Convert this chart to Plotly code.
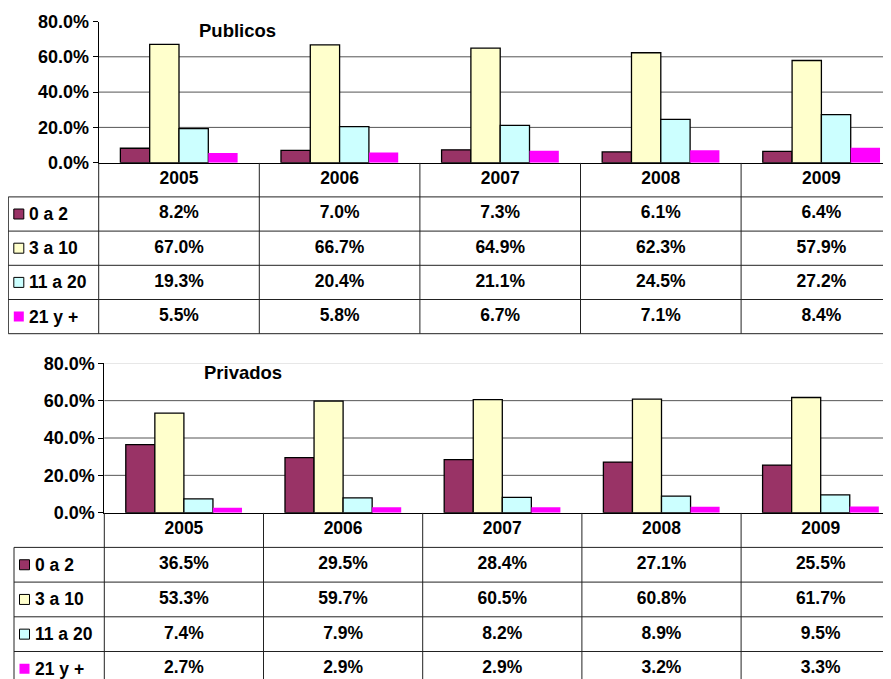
import plotly.graph_objects as go

## DATOS
anios = ["2005", "2006", "2007", "2008", "2009"]
grupos = ["0 a 2", "3 a 10", "11 a 20", "21 y +"]
colores = ["#993366", "#FFFFCC", "#CCFFFF", "#FF00FF"]
ejes_y = [0.0, 0.2, 0.4, 0.6, 0.8]

publicos_0a2 = [8.2, 7.0, 7.3, 6.1, 6.4]
publicos_3a10 = [67.0, 66.7, 64.9, 62.3, 57.9]
publicos_11a20 = [19.3, 20.4, 21.1, 24.5, 27.2]
publicos_21 = [5.5, 5.8, 6.7, 7.1, 8.4]

privados_0a2 = [36.5, 29.5, 28.4, 27.1, 25.5]
privados_3a10 = [53.3, 59.7, 60.5, 60.8, 61.7]
privados_11a20 = [7.4, 7.9, 8.2, 8.9, 9.5]
privados_21 = [2.7, 2.9, 2.9, 3.2, 3.3]

W, H = 891, 679
OFF = 8  # margen del <body> en la pagina
FUENTE = "Liberation Sans, Arial, sans-serif"


def px_x(p):
    return min(1, max(0, (p - OFF) / W))


def px_y(p):
    return min(1, max(0, 1 - (p - OFF) / H))


def agregar_panel(fig, n, titulo, series, eje_x, ancho_col, y80, y0, alto_fila, ancho_leyenda, gris80):
    # n: 1 = arriba, 2 = abajo ; cada panel usa un par de ejes para barras y otro para la tabla
    xb, yb = ("x", "y") if n == 1 else ("x2", "y2")
    xt, yt = ("x3", "y3") if n == 1 else ("x4", "y4")
    nxb, nyb = ("xaxis", "yaxis") if n == 1 else ("xaxis2", "yaxis2")
    nxt, nyt = ("xaxis3", "yaxis3") if n == 1 else ("xaxis4", "yaxis4")

    x_idx = list(range(len(anios)))
    for g, col, vals in zip(grupos, colores, series):
        fig.add_trace(go.Bar(
            x=x_idx, y=[v / 100 for v in vals], name=g,
            marker=dict(color=col, line=dict(color="black", width=0 if col == "#FF00FF" else 1.3)),
            xaxis=xb, yaxis=yb, showlegend=False, hoverinfo="skip",
        ))

    borde_der = W + OFF
    rango_der = -0.5 + (borde_der - eje_x) / ancho_col
    fig.layout[nxb] = dict(
        domain=[px_x(eje_x), 1], range=[-0.5, rango_der], anchor=yb, automargin=False,
        showgrid=False, zeroline=False, showticklabels=False,
        showline=True, linecolor="black", linewidth=1, ticks="",
    )
    fig.layout[nyb] = dict(
        domain=[px_y(y0), px_y(y80)], range=[0, 0.8], anchor=xb, automargin=False,
        tickvals=ejes_y, tickformat=".1%", ticks="outside", ticklen=5,
        tickcolor="black", showline=True, linecolor="black", linewidth=1,
        showgrid=False, zeroline=False,
        tickfont=dict(family=FUENTE, size=18, color="black", weight="bold"),
    )
    # lineas de cuadricula
    for v in ejes_y[1:-1]:
        fig.add_shape(type="line", xref=xb + " domain", yref=yb, x0=0, x1=1, y0=v, y1=v,
                      line=dict(color="#555555", width=1), layer="below")
    if gris80:
        fig.add_shape(type="line", xref=xb + " domain", yref=yb, x0=0, x1=1, y0=0.8, y1=0.8,
                      line=dict(color="#d8d8d8", width=1), layer="below")

    fig.add_annotation(text=titulo, xref="paper", yref="paper", x=px_x(eje_x + 139),
                       y=px_y(y80 + 9), xanchor="center", yanchor="middle",
                       showarrow=False, font=dict(family=FUENTE, size=18.5, color="black", weight="bold"))

    ## TABLA
    filas = 1 + len(grupos)
    izq_px = max(OFF, eje_x - ancho_leyenda - 4)
    x_izq = -0.5 - (eje_x - izq_px) / ancho_col
    x_leyenda = -0.5 - ancho_leyenda / ancho_col
    fig.layout[nxt] = dict(
        domain=[px_x(izq_px), 1], range=[x_izq, rango_der], anchor=yt, automargin=False,
        showgrid=False, zeroline=False, showticklabels=False, showline=False,
    )
    abajo_px = min(y0 + filas * alto_fila + 2, H + OFF)
    rng_abajo = (abajo_px - y0) / alto_fila
    fig.layout[nyt] = dict(
        domain=[px_y(abajo_px), px_y(y0)], range=[rng_abajo, 0], anchor=xt, automargin=False,
        showgrid=False, zeroline=False, showticklabels=False, showline=False,
    )
    lc = dict(color="#222222", width=1)
    for k in range(len(anios) + 1):
        fig.add_shape(type="line", xref=xt, yref=yt, x0=k - 0.5, x1=k - 0.5, y0=0, y1=filas, line=lc)
    fig.add_shape(type="line", xref=xt, yref=yt, x0=x_leyenda, x1=x_leyenda, y0=1, y1=filas, line=lc)
    for r in range(1, filas + 1):
        fig.add_shape(type="line", xref=xt, yref=yt, x0=x_leyenda, x1=len(anios) - 0.5,
                      y0=r, y1=r, line=lc)

    fuente_tabla = dict(family=FUENTE, size=17.5, color="black", weight="bold")
    fig.add_trace(go.Scatter(
        x=x_idx, y=[0.5] * len(anios), text=anios, mode="text",
        textfont=fuente_tabla, xaxis=xt, yaxis=yt, showlegend=False, hoverinfo="skip",
    ))
    for r, (g, col, vals) in enumerate(zip(grupos, colores, series)):
        fig.add_trace(go.Scatter(
            x=x_idx, y=[r + 1.5] * len(anios), text=[f"{v:.1f}%" for v in vals], mode="text",
            textfont=fuente_tabla, xaxis=xt, yaxis=yt, showlegend=False, hoverinfo="skip",
        ))
        fig.add_trace(go.Scatter(
            x=[x_leyenda + 10.5 / ancho_col], y=[r + 1.5], mode="markers",
            marker=dict(symbol="square", size=10, color=col,
                        line=dict(color="black", width=0 if col == "#FF00FF" else 1)),
            xaxis=xt, yaxis=yt, showlegend=False, hoverinfo="skip",
        ))
        fig.add_annotation(text=g, xref=xt, yref=yt, x=x_leyenda, y=r + 1.5, xanchor="left",
                           xshift=19, showarrow=False, font=fuente_tabla)


def generar_figura():
    fig = go.Figure()
    agregar_panel(fig, 1, "Publicos",
                  [publicos_0a2, publicos_3a10, publicos_11a20, publicos_21],
                  eje_x=98.7, ancho_col=160.6, y80=21.5, y0=162.7, alto_fila=34.2,
                  ancho_leyenda=90.4, gris80=False)
    agregar_panel(fig, 2, "Privados",
                  [privados_0a2, privados_3a10, privados_11a20, privados_21],
                  eje_x=104.3, ancho_col=159.2, y80=363.3, y0=512.7, alto_fila=34.7,
                  ancho_leyenda=90.3, gris80=True)
    fig.update_layout(
        width=W, height=H,
        margin=dict(l=0, r=0, t=0, b=0, autoexpand=False),
        barmode="group", bargap=0.27, bargroupgap=0,
        plot_bgcolor="white", paper_bgcolor="white",
        font=dict(family=FUENTE),
    )
    return fig


if __name__ == "__main__":
    fig = generar_figura()
    fig.write_html("out.html")
